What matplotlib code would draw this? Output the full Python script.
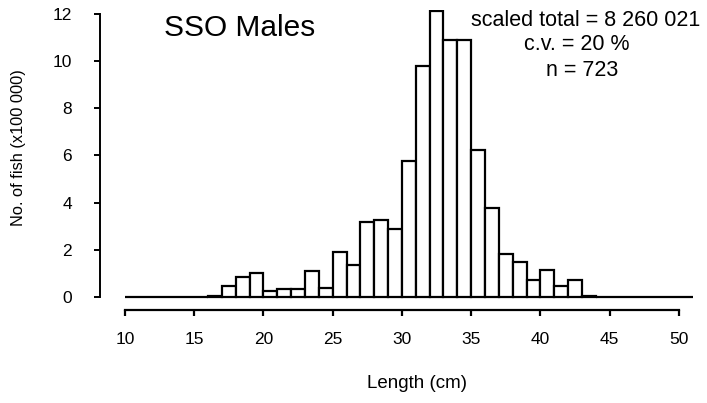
import matplotlib
matplotlib.use('Agg')
import matplotlib.pyplot as plt

plt.rcParams['font.family'] = ['Liberation Sans', 'DejaVu Sans']

# length classes (cm, left edge) and numbers of fish (x100 000)
lengths = list(range(10, 51))
counts = [0, 0, 0, 0, 0, 0, 0.04, 0.47, 0.85, 1.0,
          0.25, 0.36, 0.33, 1.1, 0.38, 1.9, 1.36, 3.18, 3.25, 2.88,
          5.78, 9.8, 12.1, 10.9, 10.9, 6.22, 3.78, 1.82, 1.48, 0.72,
          1.16, 0.47, 0.72, 0.05, 0, 0, 0, 0, 0, 0, 0]

x_ticks = [10, 15, 20, 25, 30, 35, 40, 45, 50]
y_ticks = [0, 2, 4, 6, 8, 10, 12]

title = 'SSO Males'
notes = ['scaled total = 8 260 021', 'c.v. = 20 %', 'n = 723']

W, H = 707, 403
fig = plt.figure(figsize=(W / 100, H / 100), dpi=100)
ax = fig.add_axes([100 / W, 1 - 310 / H, 600 / W, 300 / H])

ax.bar(lengths, counts, width=1, align='edge', facecolor='white',
       edgecolor='black', linewidth=1.6)

ax.set_xlim(8.2, 51.52)
ax.set_ylim(-0.55, 12.16)

for s in ['top', 'right']:
    ax.spines[s].set_visible(False)
ax.spines['left'].set_bounds(0, 12)
ax.spines['bottom'].set_bounds(10, 50)
ax.spines['left'].set_linewidth(1.4)
ax.spines['bottom'].set_linewidth(1.6)

ax.set_xticks(x_ticks)
ax.set_yticks(y_ticks)
ax.tick_params(axis='y', length=4, width=1.4, pad=16, labelsize=12.5)
ax.tick_params(axis='x', length=4, width=1.6, pad=12, labelsize=12.5)

fig.text(240 / W, 1 - 28 / H, title, fontsize=21.5, ha='center', va='center')
for txt, cx, cy in zip(notes, [586, 577, 582], [20, 45, 70]):
    fig.text(cx / W, 1 - cy / H, txt, fontsize=15.5, ha='center', va='center')

fig.text(19 / W, 1 - 148 / H, 'No. of fish (x100 000)', rotation=90,
         fontsize=11.8, ha='center', va='center')
fig.text(417 / W, 1 - 383 / H, 'Length (cm)', fontsize=13.5,
         ha='center', va='center')

fig.savefig('out.png', dpi=100)
